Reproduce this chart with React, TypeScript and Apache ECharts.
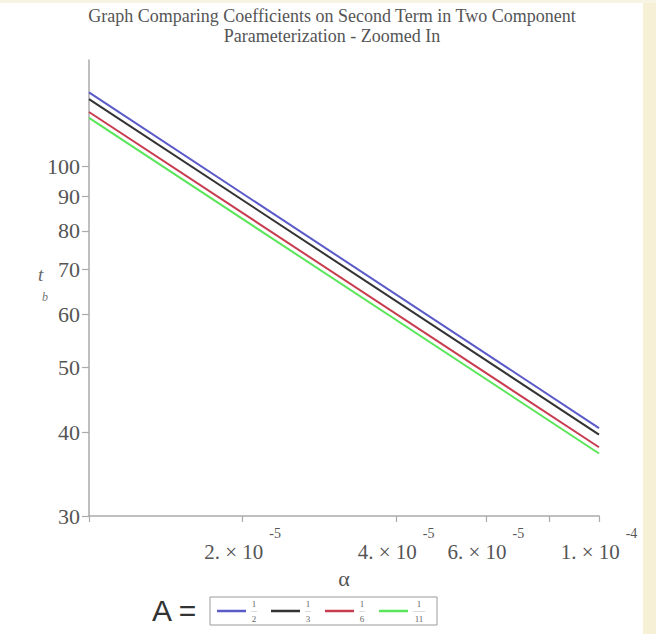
import React, { useEffect, useRef } from "react";
import * as echarts from "echarts";

// ---- data ----
const alphaPoints = [1e-5, 1e-4];
const seriesNames = ["1/2", "1/3", "1/6", "1/11"];
const tbHalf = [128.8, 40.6];
const tbThird = [125.9, 39.7];
const tbSixth = [120.4, 38.0];
const tbEleventh = [118.0, 37.2];
const seriesColors = ["#5a5ac8", "#333333", "#c83c50", "#5ae65a"];

const yTickValues = [30, 40, 50, 60, 70, 80, 90, 100];
const xTickValues = [1e-5, 2e-5, 4e-5, 6e-5, 8e-5, 1e-4];
const xLabelValues = [2e-5, 4e-5, 6e-5, 1e-4];
const xLabelMantissa = ["2.", "4.", "6.", "1."];
const xLabelExponent = ["-5", "-5", "-5", "-4"];

const TITLE = "Graph Comparing Coefficients on Second Term in Two Component\nParameterization - Zoomed In";

const SERIF = "'Liberation Serif', 'DejaVu Serif', serif";
const TEXT = "#555555";

export default function App() {
  const ref = useRef<HTMLDivElement>(null);

  useEffect(() => {
    if (!ref.current) return;
    const chart = echarts.init(ref.current, undefined, { renderer: "svg" });
    const allValues = [tbHalf, tbThird, tbSixth, tbEleventh];

    chart.setOption({
      animation: false,
      backgroundColor: "#ffffff",
      title: {
        text: TITLE,
        left: 327,
        textAlign: "center",
        top: 1,
        textStyle: {
          fontFamily: SERIF,
          fontSize: 18,
          fontWeight: "normal",
          color: TEXT,
          lineHeight: 20,
        },
      },
      grid: { left: 89, right: 57, top: 60, bottom: 118 },
      xAxis: {
        type: "log",
        logBase: 10,
        min: 1e-5,
        max: 1e-4,
        name: "α",
        nameLocation: "middle",
        nameGap: 51,
        nameTextStyle: { fontFamily: SERIF, fontSize: 22, color: TEXT },
        axisLine: { show: true, lineStyle: { color: "#aaaaaa", width: 1.5 } },
        axisTick: {
          show: true,
          length: 6,
          customValues: xTickValues,
          lineStyle: { color: "#aaaaaa", width: 1.2 },
        },
        splitLine: { show: false },
        minorTick: { show: false },
        axisLabel: {
          customValues: xLabelValues,
          margin: 25,
          formatter: (v: number) => {
            const i = xLabelValues.findIndex((x) => Math.abs(x - v) / x < 1e-6);
            if (i < 0) return "";
            return `{m|${xLabelMantissa[i]} × 10}{s|${xLabelExponent[i]}}`;
          },
          rich: {
            m: {
              fontFamily: SERIF,
              fontSize: 21,
              color: TEXT,
              lineHeight: 21,
              verticalAlign: "bottom",
            },
            s: {
              fontFamily: SERIF,
              fontSize: 14,
              color: TEXT,
              lineHeight: 14,
              padding: [0, 0, 22, 6],
              verticalAlign: "bottom",
            },
          },
        },
      },
      yAxis: {
        type: "log",
        logBase: 10,
        min: 30,
        max: 144,
        axisLine: { show: true, lineStyle: { color: "#aaaaaa", width: 1.5 } },
        axisTick: {
          show: true,
          length: 7,
          customValues: yTickValues,
          lineStyle: { color: "#aaaaaa", width: 1.2 },
        },
        splitLine: { show: false },
        minorTick: { show: false },
        axisLabel: {
          customValues: yTickValues,
          margin: 9,
          fontFamily: SERIF,
          fontSize: 22,
          color: TEXT,
        },
      },
      legend: {
        left: 210,
        top: 597,
        orient: "horizontal",
        borderColor: "#9a9a9a",
        borderWidth: 1,
        padding: [2, 12, 2, 7],
        itemGap: 14,
        itemWidth: 29,
        itemHeight: 2.5,
        icon: "rect",
        data: seriesNames,
        formatter: (name: string) => {
          const [n, d] = name.split("/");
          const bar = d.length > 1 ? "——" : "—";
          return `{n|${n}}\n{b|${bar}}\n{d|${d}}`;
        },
        textStyle: {
          color: "#666666",
          rich: {
            n: { fontFamily: SERIF, fontSize: 9, color: "#666666", lineHeight: 12, align: "center" },
            b: { fontFamily: SERIF, fontSize: 6, color: "#999999", lineHeight: 3, align: "center" },
            d: { fontFamily: SERIF, fontSize: 9, color: "#666666", lineHeight: 12, align: "center" },
          },
        },
      },
      graphic: [
        { type: "rect", left: 643, top: 0, shape: { width: 13, height: 634 }, style: { fill: "#f6f0d6" }, silent: true },
        { type: "rect", left: 0, top: 0, shape: { width: 656, height: 3 }, style: { fill: "#f8f4e4" }, silent: true },
        {
          type: "text",
          left: 38,
          top: 265,
          style: { text: "t", fontFamily: SERIF, fontStyle: "italic", fontSize: 19, fill: "#666" },
        },
        {
          type: "text",
          left: 42,
          top: 291,
          style: { text: "b", fontFamily: SERIF, fontStyle: "italic", fontSize: 12, fill: "#777" },
        },
        {
          type: "text",
          left: 152,
          top: 595,
          style: { text: "A =", fontFamily: "'Liberation Sans', Arial, sans-serif", fontSize: 30, fill: "#333" },
        },
      ],
      series: seriesNames.map((name, k) => ({
        name,
        type: "line",
        showSymbol: false,
        symbol: "none",
        data: alphaPoints.map((a, i) => [a, allValues[k][i]]),
        lineStyle: { color: seriesColors[k], width: 2 },
        itemStyle: { color: seriesColors[k] },
      })),
    });

    return () => chart.dispose();
  }, []);

  return (
    <div
      ref={ref}
      style={{ position: "absolute", left: 0, top: 0, width: 656, height: 634 }}
    />
  );
}
